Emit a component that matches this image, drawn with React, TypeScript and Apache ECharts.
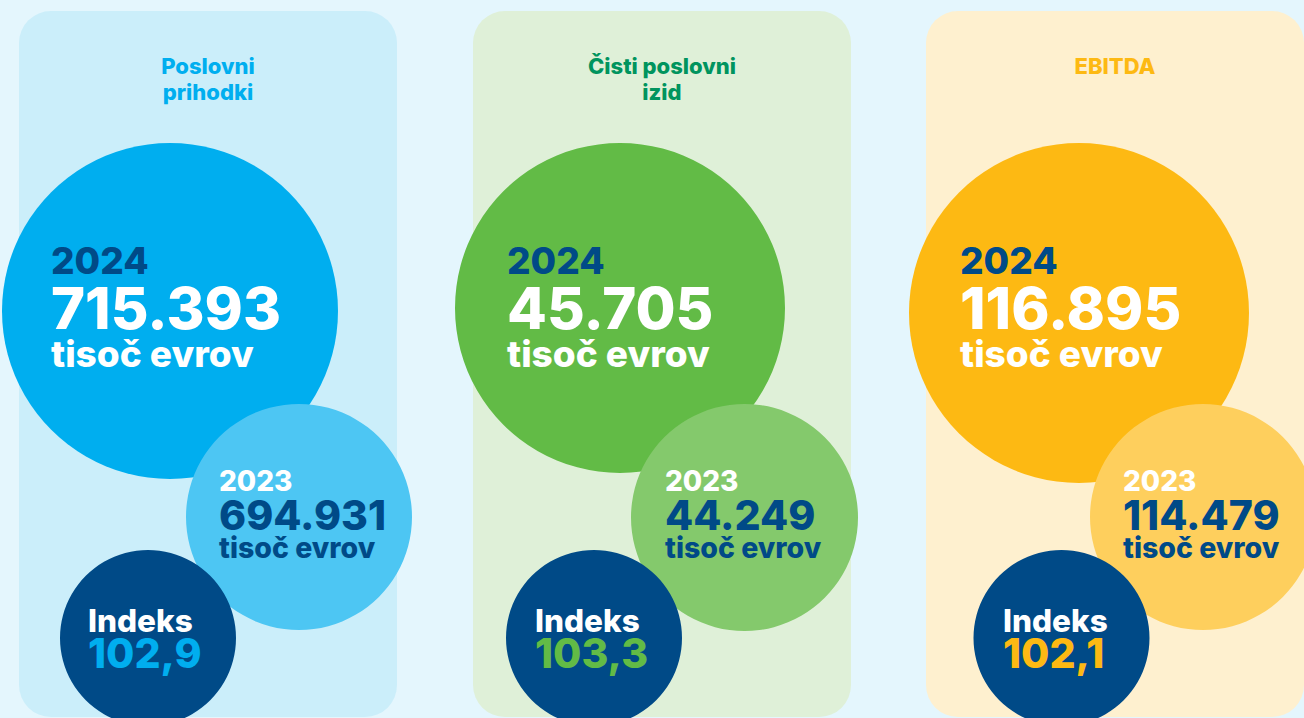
import React, { useEffect, useRef } from "react";
import * as echarts from "echarts";

// ---- data ----
const titles: string[][] = [["Poslovni", "prihodki"], ["Čisti poslovni", "izid"], ["EBITDA"]];
const yearCurrent = "2024";
const yearPrevious = "2023";
const valuesCurrent = [715393, 45705, 116895];
const valuesPrevious = [694931, 44249, 114479];
const indices = [102.9, 103.3, 102.1];
const unitLabel = "tisoč evrov";
const indexLabel = "Indeks";

// ---- styles ----
const themes = [
  { panel: "#cbeefa", title: "#00aeef", big: "#00aeef", mid: "#4dc6f3", idx: "#00aeef" },
  { panel: "#dff0d8", title: "#00945e", big: "#62bb46", mid: "#84c96c", idx: "#62bb46" },
  { panel: "#fef0cf", title: "#fdb913", big: "#fdb913", mid: "#fecf5d", idx: "#fdb913" },
];
const NAVY = "#004a87";
const FONT = '"Inter", "Liberation Sans", Arial, sans-serif';
const WEIGHT = 800;

// ---- layout ----
const panelX = [19, 473, 926];
const bigC = [
  { cx: 170, cy: 311, r: 168 },
  { cx: 620, cy: 308, r: 165 },
  { cx: 1079, cy: 313, r: 170 },
];
const midC = [
  { cx: 299, cy: 517, r: 113 },
  { cx: 744.5, cy: 517.5, r: 113.5 },
  { cx: 1203, cy: 517, r: 113 },
];
const smallC = [
  { cx: 148, cy: 638, r: 88 },
  { cx: 594, cy: 638, r: 88 },
  { cx: 1061.5, cy: 638, r: 88 },
];
const bigTextX = [51, 507, 960];
const midTextX = [219, 665, 1123];
const idxTextX = [88, 535, 1003];

const fmtThousands = (v: number) => String(v).replace(/\B(?=(\d{3})+(?!\d))/g, ".");
const fmtIndex = (v: number) => v.toFixed(1).replace(".", ",");

function txt(text: string, x: number, y: number, size: number, fill: string, align = "left") {
  return {
    type: "text",
    x,
    y,
    z: 10,
    style: {
      text,
      fill,
      fontSize: size,
      fontWeight: WEIGHT,
      fontFamily: FONT,
      align,
      verticalAlign: "middle",
      lineHeight: Math.round(size * 0.9),
    },
  };
}

function buildElements() {
  const els: any[] = [];
  titles.forEach((lines, i) => {
    const t = themes[i];
    const px = panelX[i];
    els.push({
      type: "rect",
      z: 1,
      shape: { x: px, y: 11, width: 378, height: 706, r: 32 },
      style: { fill: t.panel },
    });
    lines.forEach((line, li) => {
      els.push(txt(line, px + 189, 65.5 + li * 26, 22, t.title, "center"));
    });
    els.push({ type: "circle", z: 2, shape: bigC[i], style: { fill: t.big } });
    els.push({ type: "circle", z: 3, shape: midC[i], style: { fill: t.mid } });
    els.push({ type: "circle", z: 4, shape: smallC[i], style: { fill: NAVY } });

    els.push(txt(yearCurrent, bigTextX[i], 260.5, 37, NAVY));
    els.push(txt(fmtThousands(valuesCurrent[i]), bigTextX[i], 308, 58, "#ffffff"));
    els.push(txt(unitLabel, bigTextX[i], 353, 37, "#ffffff"));

    els.push(txt(yearPrevious, midTextX[i], 481, 28, "#ffffff"));
    els.push(txt(fmtThousands(valuesPrevious[i]), midTextX[i], 515, 41, NAVY));
    els.push(txt(unitLabel, midTextX[i], 547, 28.5, NAVY));

    els.push(txt(indexLabel, idxTextX[i], 620, 31.5, "#ffffff"));
    els.push(txt(fmtIndex(indices[i]), idxTextX[i], 653, 41, t.idx));
  });
  return els;
}

export default function App() {
  const ref = useRef<HTMLDivElement>(null);
  useEffect(() => {
    document.body.style.margin = "0";
    if (!ref.current) return;
    const chart = echarts.init(ref.current, undefined, { renderer: "svg" });
    chart.setOption({
      animation: false,
      backgroundColor: "#e4f6fd",
      graphic: { elements: buildElements() },
    });
    return () => chart.dispose();
  }, []);
  return <div ref={ref} style={{ width: 1304, height: 718, position: "absolute", left: 0, top: 0 }} />;
}
